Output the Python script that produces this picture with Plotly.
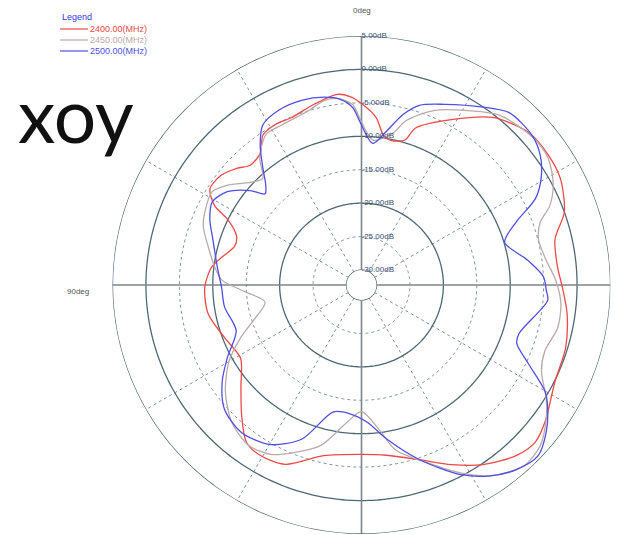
import numpy as np
import plotly.graph_objects as go

# ---------------- data (angle in deg, gain in dB) ----------------
theta_2400 = [0, 3.5, 7.2, 14.7, 22.6, 28.5, 33.3, 37.6, 42.9, 46.9, 52.0, 57.6, 61.7, 63.8, 68.7,
              73.1, 78.9, 83.0, 90.7, 100.5, 111.0, 121.2, 130.0, 137.3, 143.8, 149.2, 157.0, 167.5,
              180.0, 188.4, 198.4, 206.6, 214.1, 222.2, 227.9, 233.3, 243.5, 252.9, 262.1, 269.4,
              275.3, 283.3, 289.8, 298.2, 304.9, 312.3, 321.9, 331.5, 341.0, 343.3, 348.3, 351.5, 355.0]
gain_2400 = [-5.1, -4.0, -3.5, -4.3, -5.1, -5.0, -5.4, -7.4, -7.8, -6.7, -5.6, -5.4, -7.3, -9.9, -12.2,
             -12.4, -10.9, -9.7, -8.8, -8.9, -10.3, -11.1, -8.7, -5.8, -3.1, -2.6, -3.1, -6.1,
             -6.9, -6.5, -4.7, -2.2, 0.2, 2.2, 2.8, 2.0, 0.1, -0.3, -1.2, -2.2,
             -2.8, -2.5, 0.0, 1.5, 1.8, 1.6, -0.4, -4.1, -7.4, -9.6, -10.2, -9.7, -7.1]

theta_2450 = [0.7, 2.8, 7.4, 11.5, 16.9, 26.3, 32.5, 38.7, 42.8, 46.3, 53.5, 58.1, 65.0, 69.6, 75.9,
              82.9, 87.9, 93.0, 100.1, 108.2, 113.6, 119.9, 128.0, 136.6, 144.8, 151.8, 158.0, 165.8,
              174.0, 180.0, 186.9, 191.6, 200.3, 207.5, 214.4, 222.0, 228.1, 233.4, 238.4, 244.4,
              250.2, 257.7, 264.8, 271.5, 277.8, 284.5, 289.4, 292.8, 297.9, 304.2, 310.5, 320.8,
              328.6, 337.2, 344.9, 348.2, 355.5]
gain_2450 = [-7.2, -5.2, -4.1, -4.1, -5.0, -5.5, -5.6, -7.9, -10.5, -9.9, -7.2, -5.9, -6.4, -7.0, -8.6,
             -10.1, -11.3, -14.6, -17.6, -15.2, -12.5, -9.4, -6.4, -4.0, -2.9, -3.5, -5.2, -7.5,
             -11.6, -13.3, -10.5, -7.1, -3.9, -0.6, 2.3, 4.1, 3.7, 2.1, 0.2, -2.4,
             -3.1, -2.2, -2.3, -3.2, -4.4, -4.9, -3.9, -1.7, 0.2, 1.5, 1.6, 0.5,
             -1.7, -3.9, -6.8, -9.0, -10.5]

theta_2500 = [0.7, 2.8, 6.5, 11.3, 18.0, 25.1, 31.6, 35.9, 40.2, 43.9, 46.6, 49.7, 55.2, 60.8, 66.5,
              73.0, 82.8, 90.8, 99.2, 110.0, 118.5, 124.7, 132.1, 140.6, 150.0, 158.8, 167.5, 174.9,
              182.4, 189.3, 198.4, 207.7, 214.0, 220.0, 226.0, 231.4, 236.4, 239.9, 244.7, 249.3,
              252.8, 265.3, 268.4, 272.6, 278.7, 286.6, 292.1, 296.4, 300.7, 306.0, 311.4, 319.4,
              325.6, 335.3, 342.1, 346.3, 350.7, 355.5]
gain_2500 = [-7.7, -5.7, -4.3, -3.6, -3.2, -3.3, -4.1, -6.4, -9.4, -11.6, -12.4, -10.4, -7.8, -6.7, -7.5,
             -9.0, -10.5, -11.3, -11.5, -12.3, -9.4, -6.9, -4.6, -3.8, -4.7, -7.5, -12.8, -12.9,
             -11.7, -8.9, -4.7, -0.2, 2.2, 3.8, 4.5, 3.1, 1.2, -0.5, -4.6, -7.4,
             -7.6, -4.3, -4.6, -5.0, -7.2, -9.9, -7.3, -3.2, -1.0, 0.8, 1.7, 1.7,
             0.0, -2.5, -4.0, -6.0, -8.9, -11.0]

series_names = ["2400.00(MHz)", "2450.00(MHz)", "2500.00(MHz)"]
series_colors = ["#f04848", "#bba9a9", "#4f4fe6"]

ring_solid = [5, 0, -10, -20, -30]
ring_dashed = [-5, -15, -25]
tick_values = [5, 0, -5, -10, -15, -20, -25, -30]
tick_labels = ["5.00dB", "0.00dB", "-5.00dB", "-10.00dB", "-15.00dB", "-20.00dB", "-25.00dB", "-30.00dB"]
spokes_dashed = [30, 60, 120, 150, 210, 240, 300, 330]
spokes_solid = [0, 90, 180, 270]
R_MIN, R_MAX = -30, 5

W, H = 620, 535
CX, CY, RAD = 361.5, 285, 249

fig = go.Figure()


def rings(levels):
    th, rr = [], []
    circ = np.linspace(0, 360, 361)
    for lv in levels:
        th += list(circ) + [None]
        rr += [lv] * 361 + [None]
    return th, rr


def spokes(angles):
    th, rr = [], []
    for a in angles:
        th += [a, a, None]
        rr += [R_MIN, R_MAX, None]
    return th, rr


th, rr = spokes(spokes_dashed)
fig.add_trace(go.Scatterpolar(theta=th, r=rr, mode="lines", hoverinfo="skip",
                              line=dict(color="#7f90a2", width=1, dash="3px,3px"), showlegend=False))
th, rr = rings(ring_dashed)
fig.add_trace(go.Scatterpolar(theta=th, r=rr, mode="lines", hoverinfo="skip",
                              line=dict(color="#7f90a2", width=1, dash="3px,3px"), showlegend=False))
th, rr = rings(ring_solid)
fig.add_trace(go.Scatterpolar(theta=th, r=rr, mode="lines", hoverinfo="skip",
                              line=dict(color="#4e6875", width=1.3), showlegend=False))
th, rr = spokes(spokes_solid)
fig.add_trace(go.Scatterpolar(theta=th, r=rr, mode="lines", hoverinfo="skip",
                              line=dict(color="#7c858b", width=1.6), showlegend=False))

for name, col, t, g in zip(series_names, series_colors,
                           [theta_2400, theta_2450, theta_2500],
                           [gain_2400, gain_2450, gain_2500]):
    fig.add_trace(go.Scatterpolar(theta=t + [t[0]], r=g + [g[0]], mode="lines", name=name,
                                  line=dict(color=col, width=1.3, shape="spline", smoothing=0.8),
                                  showlegend=False))

fig.add_trace(go.Scatterpolar(theta=[0] * len(tick_values), r=tick_values, mode="text",
                              text=tick_labels, textposition="middle right",
                              textfont=dict(size=8, color="#3a4c70", family="Liberation Sans"),
                              hoverinfo="skip", showlegend=False, cliponaxis=False))

fig.update_layout(
    width=W, height=H, autosize=False,
    margin=dict(l=0, r=0, t=0, b=0),
    paper_bgcolor="white", plot_bgcolor="white",
    font=dict(family="Liberation Sans, Arial, sans-serif"),
    polar=dict(
        domain=dict(x=[(CX - RAD) / W, (CX + RAD) / W], y=[(H - CY - RAD) / H, (H - CY + RAD) / H]),
        bgcolor="white",
        hole=15 / RAD,
        radialaxis=dict(range=[R_MIN, R_MAX], showgrid=False, showticklabels=False, ticks="",
                        showline=False, visible=True),
        angularaxis=dict(rotation=90, direction="counterclockwise", showgrid=False,
                         showticklabels=False, ticks="", showline=False),
    ),
)

# legend box drawn manually
leg_y = [29, 40, 51]
fig.add_annotation(x=60 / W, y=1 - 17 / H, xref="paper", yref="paper", text="Legend", showarrow=False,
                   xanchor="left", yanchor="middle", font=dict(size=9, color="#3636d8"))
for name, col, yy in zip(series_names, series_colors, leg_y):
    fig.add_shape(type="line", xref="paper", yref="paper", x0=60 / W, x1=88 / W,
                  y0=1 - yy / H, y1=1 - yy / H, line=dict(color=col, width=1.2))
    fig.add_annotation(x=88 / W, y=1 - yy / H, xref="paper", yref="paper", text=name, showarrow=False,
                       xanchor="left", yanchor="middle", font=dict(size=9, color=col))

fig.add_annotation(x=362 / W, y=1 - 10 / H, xref="paper", yref="paper", text="0deg", showarrow=False,
                   xanchor="center", yanchor="middle", font=dict(size=8, color="#555555"))
fig.add_annotation(x=78 / W, y=1 - 291 / H, xref="paper", yref="paper", text="90deg", showarrow=False,
                   xanchor="center", yanchor="middle", font=dict(size=8, color="#555555"))
fig.add_annotation(x=16 / W, y=1 - 114 / H, xref="paper", yref="paper", text="xoy", showarrow=False,
                   xanchor="left", yanchor="middle", font=dict(size=75, color="#111111", family="Lato"))

fig.write_html("out.html", config={"displayModeBar": False},
               post_script="document.body.style.margin='0px';")
